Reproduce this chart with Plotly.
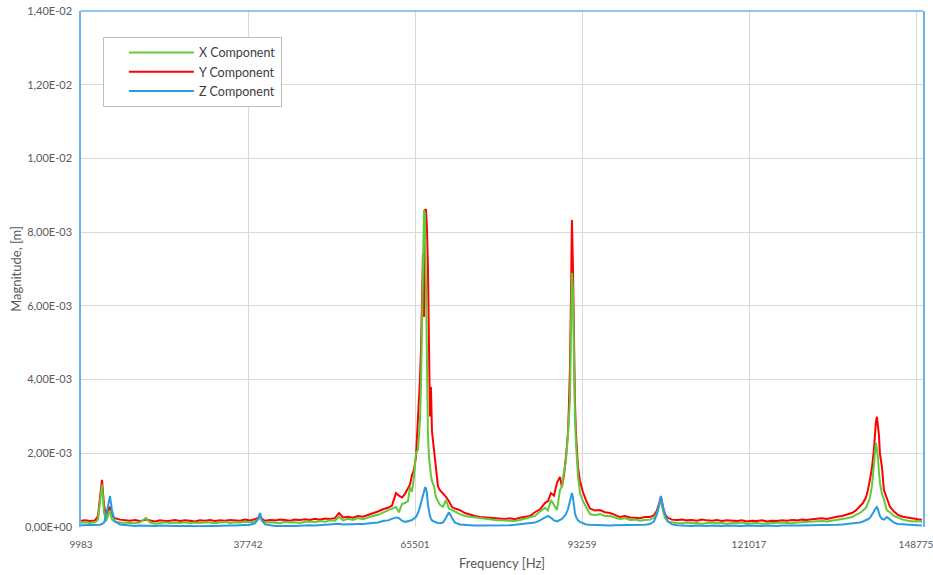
import plotly.graph_objects as go

# Frequency samples [Hz]
frequency_hz = [
    9983, 10648, 11479, 12310, 12808, 13141, 13473, 13806, 14138, 14470, 14803, 15135, 15634, 16465,
    17296, 18127, 18958, 19789, 20786, 21451, 22282, 23113, 23944, 24775, 25606, 26437, 27268, 28099,
    28930, 29761, 30592, 31423, 32254, 33085, 33916, 34747, 35578, 36409, 37240, 38071, 38902,
    39401, 39733, 40065, 40564,
    41395, 42226, 43057, 43888, 44719, 45550, 46381, 47212, 48043, 48874, 49705, 50536, 51367, 52198,
    52863, 53528, 54359, 55190, 56021, 56852, 57683, 58514, 59345, 60176, 61007, 61672, 62336, 62835,
    63333, 63832, 64331, 64663, 64995, 65328, 65660,
    65993, 66159, 66325, 66491, 66657, 66823, 66990, 67156, 67322, 67488, 67654, 67821, 67987, 68153, 68319,
    68652, 68984, 69317, 69649, 70148, 70646, 71145, 71643, 72142, 72973, 73804, 74635, 75466, 76297,
    77128, 77959, 78790, 79621, 80452, 81283, 82114, 82945, 83776, 84607, 85438, 86269, 87100, 87599,
    88097, 88596, 89095, 89593,
    89926, 90258, 90591, 90923, 91089, 91255, 91422, 91588, 91754, 91920, 92086, 92253, 92585, 92917, 93416,
    93915, 94580, 95411, 96242, 97073, 97904, 98735, 99565, 100396, 101227, 102058, 102889, 103720,
    104551, 105216, 105715, 106047, 106379, 106712, 107044, 107543, 108207,
    109038, 109869, 110700, 111531, 112362, 113193, 114024, 114855, 115686, 116517, 117348, 118179,
    119010, 119841, 120672, 121503, 122334, 123165, 123996, 124827, 125658, 126489, 127320, 128151,
    128982, 129813, 130644, 131475, 132306, 133137, 133968, 134799, 135630, 136461, 137292, 138123,
    138788, 139453, 139951, 140450, 140783, 141115, 141447, 141780, 141946, 142112, 142278, 142444,
    142611, 142777, 143109, 143442, 143940, 144439, 145104, 145768, 146599, 147430, 148261, 149092, 149757,
]

# Magnitudes in units of 1e-3 m
x_component_mm = [
    0.12, 0.13, 0.11, 0.13, 0.20, 0.60, 1.15, 0.40, 0.15, 0.30, 0.45, 0.20, 0.14, 0.12,
    0.11, 0.12, 0.10, 0.13, 0.25, 0.12, 0.09, 0.11, 0.13, 0.10, 0.12, 0.11, 0.13, 0.10,
    0.12, 0.11, 0.13, 0.12, 0.10, 0.12, 0.14, 0.11, 0.13, 0.12, 0.14, 0.13, 0.15,
    0.20, 0.27, 0.16, 0.12,
    0.13, 0.12, 0.10, 0.14, 0.12, 0.13, 0.11, 0.14, 0.15, 0.13, 0.16, 0.14, 0.18, 0.17,
    0.28, 0.18, 0.22, 0.19, 0.24, 0.21, 0.26, 0.30, 0.33, 0.40, 0.45, 0.50, 0.54, 0.40,
    0.62, 0.65, 0.70, 1.08, 0.95, 1.36, 2.00,
    2.10, 2.50, 2.90, 3.80, 5.50, 7.50, 8.60, 8.50, 6.40, 3.70, 2.50, 1.90, 1.60, 1.40, 1.25,
    1.10, 0.80, 0.70, 0.60, 0.55, 0.73, 0.50, 0.46, 0.40, 0.35, 0.30, 0.28, 0.25, 0.24,
    0.22, 0.20, 0.19, 0.18, 0.17, 0.18, 0.16, 0.19, 0.22, 0.25, 0.30, 0.42, 0.52, 0.45,
    0.73, 0.60, 0.46, 1.00,
    1.10, 1.50, 1.80, 2.50, 3.00, 3.45, 5.30, 6.90, 6.35, 4.30, 3.00, 2.30, 1.40, 0.92, 0.70,
    0.55, 0.35, 0.32, 0.35, 0.30, 0.30, 0.26, 0.22, 0.24, 0.19, 0.20, 0.17, 0.19,
    0.20, 0.25, 0.38, 0.55, 0.75, 0.45, 0.25, 0.14, 0.12,
    0.11, 0.10, 0.12, 0.10, 0.11, 0.09, 0.11, 0.12, 0.10, 0.11, 0.09, 0.11,
    0.10, 0.12, 0.09, 0.10, 0.11, 0.09, 0.10, 0.11, 0.10, 0.12, 0.11, 0.10,
    0.12, 0.13, 0.12, 0.14, 0.15, 0.16, 0.15, 0.18, 0.20, 0.22, 0.24, 0.27,
    0.33, 0.38, 0.45, 0.52, 0.65, 0.80, 1.10, 1.63, 2.00, 2.28, 2.10, 1.90,
    1.50, 1.20, 0.90, 0.75, 0.45, 0.40, 0.30, 0.25, 0.20, 0.17, 0.15, 0.16, 0.14,
]

y_component_mm = [
    0.17, 0.18, 0.16, 0.18, 0.30, 0.80, 1.28, 0.60, 0.30, 0.45, 0.55, 0.30, 0.24, 0.20,
    0.18, 0.17, 0.19, 0.16, 0.20, 0.17, 0.15, 0.18, 0.16, 0.17, 0.19, 0.16, 0.18, 0.17,
    0.15, 0.18, 0.17, 0.19, 0.16, 0.18, 0.17, 0.19, 0.18, 0.17, 0.20, 0.18, 0.21,
    0.25, 0.30, 0.22, 0.17,
    0.19, 0.18, 0.20, 0.19, 0.17, 0.20, 0.19, 0.21, 0.19, 0.22, 0.20, 0.23, 0.22, 0.24,
    0.38, 0.26, 0.28, 0.25, 0.30, 0.28, 0.32, 0.38, 0.42, 0.48, 0.52, 0.58, 0.92, 0.85,
    0.80, 0.90, 1.05, 1.15, 1.40, 1.55, 1.90,
    2.80, 3.30, 4.00, 4.80, 5.90, 7.40, 5.70, 8.60, 8.62, 8.10, 7.00, 4.50, 3.00, 3.80, 2.60,
    2.10, 1.50, 1.10, 1.00, 0.92, 0.82, 0.70, 0.54, 0.50, 0.46, 0.38, 0.33, 0.30, 0.27,
    0.26, 0.24, 0.25, 0.23, 0.22, 0.24, 0.21, 0.25, 0.27, 0.30, 0.40, 0.48, 0.65, 0.70,
    0.92, 0.85, 1.20, 1.36,
    1.08, 1.40, 1.90, 2.55, 3.30, 4.30, 6.20, 8.33, 7.05, 4.80, 3.40, 2.55, 1.63, 1.25, 0.95,
    0.73, 0.50, 0.45, 0.46, 0.40, 0.38, 0.33, 0.27, 0.30, 0.26, 0.25, 0.24, 0.27,
    0.27, 0.32, 0.45, 0.62, 0.82, 0.55, 0.35, 0.25, 0.20,
    0.19, 0.20, 0.18, 0.19, 0.17, 0.20, 0.18, 0.17, 0.19, 0.16, 0.18, 0.17,
    0.16, 0.18, 0.15, 0.17, 0.16, 0.18, 0.15, 0.17, 0.16, 0.18, 0.17, 0.19,
    0.18, 0.20, 0.19, 0.21, 0.23, 0.24, 0.22, 0.26, 0.28, 0.30, 0.33, 0.38,
    0.45, 0.55, 0.65, 0.80, 1.00, 1.28, 1.60, 2.10, 2.63, 2.85, 2.99, 2.80,
    2.50, 2.00, 1.63, 1.00, 0.75, 0.55, 0.42, 0.33, 0.28, 0.25, 0.22, 0.21, 0.20,
]

z_component_mm = [
    0.05, 0.05, 0.04, 0.05, 0.05, 0.06, 0.08, 0.12, 0.30, 0.55, 0.84, 0.45, 0.15, 0.07,
    0.05, 0.04, 0.03, 0.04, 0.03, 0.02, 0.03, 0.04, 0.03, 0.02, 0.03, 0.03, 0.04, 0.03,
    0.02, 0.03, 0.04, 0.03, 0.03, 0.04, 0.03, 0.04, 0.04, 0.05, 0.05, 0.06, 0.10,
    0.22, 0.38, 0.18, 0.07,
    0.04, 0.03, 0.03, 0.04, 0.03, 0.03, 0.04, 0.04, 0.05, 0.04, 0.05, 0.05, 0.06, 0.07,
    0.09, 0.07, 0.08, 0.07, 0.08, 0.08, 0.09, 0.10, 0.12, 0.16, 0.18, 0.22, 0.26, 0.24,
    0.17, 0.14, 0.15, 0.17, 0.19, 0.22, 0.27,
    0.38, 0.45, 0.54, 0.65, 0.75, 0.85, 0.98, 1.06, 1.05, 0.90, 0.60, 0.40, 0.30, 0.22, 0.18,
    0.15, 0.12, 0.11, 0.10, 0.12, 0.25, 0.40, 0.25, 0.12, 0.07, 0.05, 0.05, 0.04, 0.04,
    0.04, 0.03, 0.04, 0.04, 0.05, 0.05, 0.06, 0.07, 0.08, 0.10, 0.12, 0.18, 0.26, 0.30,
    0.25, 0.18, 0.15, 0.20,
    0.22, 0.28, 0.35, 0.48, 0.60, 0.75, 0.88, 0.92, 0.80, 0.55, 0.38, 0.28, 0.18, 0.14, 0.10,
    0.07, 0.06, 0.05, 0.05, 0.05, 0.04, 0.05, 0.05, 0.04, 0.05, 0.05, 0.05, 0.06,
    0.08, 0.15, 0.35, 0.62, 0.84, 0.55, 0.35, 0.15, 0.07,
    0.05, 0.04, 0.04, 0.03, 0.04, 0.03, 0.03, 0.04, 0.03, 0.03, 0.04, 0.03,
    0.03, 0.03, 0.04, 0.03, 0.03, 0.03, 0.04, 0.03, 0.03, 0.04, 0.03, 0.04,
    0.04, 0.04, 0.05, 0.04, 0.05, 0.05, 0.05, 0.06, 0.06, 0.07, 0.08, 0.09,
    0.10, 0.12, 0.15, 0.18, 0.21, 0.25, 0.32, 0.42, 0.48, 0.52, 0.54, 0.48,
    0.38, 0.30, 0.22, 0.20, 0.27, 0.20, 0.12, 0.08, 0.07, 0.06, 0.05, 0.05, 0.04,
]

x_tick_values = [9983, 37742, 65501, 93259, 121017, 148775]
x_tick_labels = ["9983", "37742", "65501", "93259", "121017", "148775"]
y_tick_values = [0.0, 0.002, 0.004, 0.006, 0.008, 0.010, 0.012, 0.014]
y_tick_labels = ["0,00E+00", "2,00E-03", "4,00E-03", "6,00E-03", "8,00E-03",
                 "1,00E-02", "1,20E-02", "1,40E-02"]

series_names = ["X Component", "Y Component", "Z Component"]

n = len(frequency_hz)
assert len(x_component_mm) == n, (len(x_component_mm), n)
assert len(y_component_mm) == n, (len(y_component_mm), n)
assert len(z_component_mm) == n, (len(z_component_mm), n)

scale = 1e-3
GREEN = "#62C93C"
RED = "#FF0000"
BLUE = "#2A9BE0"
FONT = "Lato"
GREY_TXT = "#595959"

fig = go.Figure()
# drawing order: Y (red) first, then X (green), then Z (blue) on top
fig.add_trace(go.Scatter(x=frequency_hz, y=[v * scale for v in y_component_mm],
                         name=series_names[1], mode="lines", legendrank=2,
                         line=dict(color=RED, width=2)))
fig.add_trace(go.Scatter(x=frequency_hz, y=[v * scale for v in x_component_mm],
                         name=series_names[0], mode="lines", legendrank=1,
                         line=dict(color=GREEN, width=2)))
fig.add_trace(go.Scatter(x=frequency_hz, y=[v * scale for v in z_component_mm],
                         name=series_names[2], mode="lines", legendrank=3,
                         line=dict(color=BLUE, width=2)))

fig.update_layout(
    width=933, height=575,
    margin=dict(l=81, r=10, t=11, b=48, autoexpand=False),
    paper_bgcolor="white", plot_bgcolor="white",
    font=dict(family=FONT, color=GREY_TXT),
    showlegend=True,
    legend=dict(
        x=0.026, y=0.95, xanchor="left", yanchor="top",
        bgcolor="white", bordercolor="#BFBFBF", borderwidth=1,
        font=dict(family=FONT, size=12.5, color="#404040"),
        traceorder="normal", itemwidth=65, indentation=20,
    ),
    xaxis=dict(
        range=[9983, 149938], automargin=False,
        tickmode="array", tickvals=x_tick_values, ticktext=x_tick_labels,
        showgrid=True, gridcolor="#D9D9D9", gridwidth=1,
        zeroline=False, showline=False,
        ticks="outside", ticklen=8, tickcolor="rgba(0,0,0,0)",
        ticklabeloverflow="allow",
        tickfont=dict(family=FONT, size=10, color=GREY_TXT),
        title=dict(text="Frequency [Hz]", font=dict(family=FONT, size=13, color=GREY_TXT), standoff=9),
    ),
    yaxis=dict(
        range=[0, 0.014], automargin=False,
        tickmode="array", tickvals=y_tick_values, ticktext=y_tick_labels,
        showgrid=True, gridcolor="#D9D9D9", gridwidth=1,
        zeroline=False,
        showline=True, mirror=True, linecolor="#6AB4E8", linewidth=1.5,
        ticks="outside", ticklen=5, tickcolor="rgba(0,0,0,0)",
        ticklabeloverflow="allow",
        tickfont=dict(family=FONT, size=11, color=GREY_TXT),
        title=dict(text="Magnitude, [m]", font=dict(family=FONT, size=13, color=GREY_TXT), standoff=0),
    ),
    shapes=[dict(type="line", xref="paper", yref="paper", x0=0, x1=1, y0=1, y1=1,
                 line=dict(color="#6AB4E8", width=1.5), layer="above")],
)

# remove the page's default 8px body margin so the figure fills the window exactly
fig.write_html("out.html", config={"displayModeBar": False},
               post_script="document.body.style.margin='0px';")
